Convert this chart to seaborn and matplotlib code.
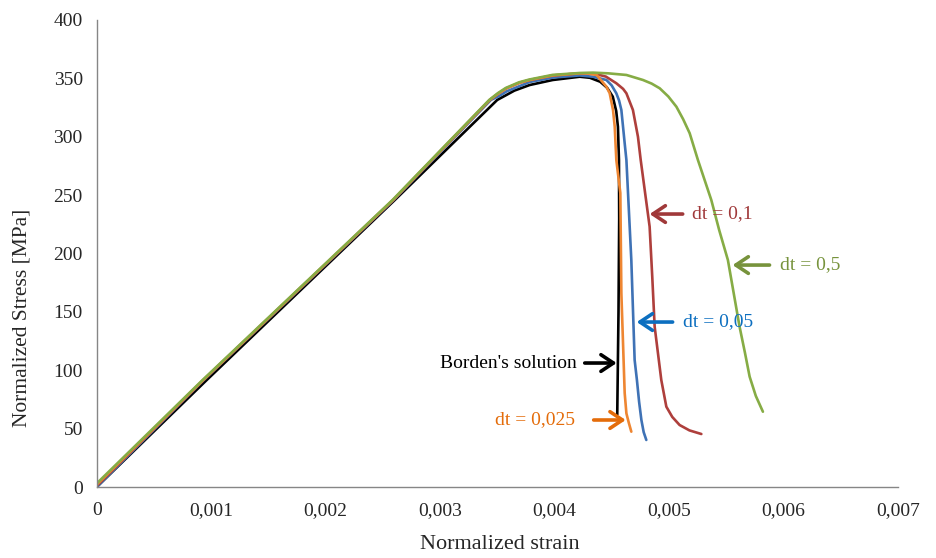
import matplotlib
matplotlib.use("Agg")
import matplotlib.pyplot as plt
import seaborn as sns
import pandas as pd

# strain / stress
strain_borden = [0, 0.000961, 0.002605, 0.00350, 0.003581, 0.00365, 0.003784, 0.003985, 0.004221, 0.00431,
                 0.00440, 0.00446, 0.00451, 0.00454, 0.004555, 0.004564, 0.004566, 0.00456, 0.004549]
stress_borden = [0, 91.6, 245.8, 331.5, 335.8, 339.5, 344.3, 348.6, 351.4, 350.5,
                 347.1, 342.0, 334.3, 322.0, 308.6, 280.0, 230.0, 150.0, 62.0]

strain_025 = [0, 0.000931, 0.00259, 0.003435, 0.00351, 0.003581, 0.003697, 0.003784, 0.003988, 0.004221,
              0.004279, 0.004369, 0.004454, 0.004483, 0.004512, 0.004527, 0.004541, 0.004576, 0.004585,
              0.004614, 0.004629, 0.00465, 0.004672]
stress_025 = [2, 91.6, 245.8, 331.5, 337.0, 341.5, 346.3, 348.6, 352.5, 354.3,
              354.3, 352.9, 342.9, 337.2, 322.9, 308.6, 280.1, 251.8, 165.9,
              80.5, 63.1, 55.0, 47.4]

strain_05 = [0, 0.000935, 0.002595, 0.003445, 0.00352, 0.003581, 0.003784, 0.003988, 0.004221, 0.004337,
             0.004454, 0.0045, 0.004541, 0.004565, 0.004585, 0.004614, 0.004629, 0.004672, 0.004701,
             0.004721, 0.00474, 0.00476, 0.00478, 0.004803]
stress_05 = [0, 91.6, 245.8, 331.5, 335.0, 338.8, 346.9, 350.7, 352.5, 351.4,
             348.6, 344.0, 337.2, 331.0, 322.9, 294.4, 280.1, 194.4, 108.8,
             91.6, 73.0, 57.4, 47.0, 40.3]

strain_1 = [0, 0.000931, 0.00259, 0.003435, 0.00351, 0.003581, 0.003697, 0.003784, 0.003988, 0.004221,
            0.004337, 0.00445, 0.004541, 0.0046, 0.004629, 0.004686, 0.00473, 0.004754, 0.004795,
            0.004832, 0.004855, 0.004876, 0.004934, 0.004978, 0.00503, 0.005094, 0.00518, 0.005284]
stress_1 = [1, 91.6, 245.8, 331.5, 337.0, 341.5, 346.3, 348.6, 352.5, 354.3,
            354.3, 351.5, 345.8, 341.0, 337.2, 322.9, 300.0, 280.1, 250.0,
            223.0, 180.0, 137.3, 91.6, 68.8, 60.0, 53.1, 48.5, 45.4]

strain_5 = [0, 0.000925, 0.002585, 0.00343, 0.003505, 0.003575, 0.00369, 0.00378, 0.003985, 0.004221,
            0.004337, 0.00447, 0.004629, 0.004774, 0.00485, 0.00492, 0.004995, 0.005066, 0.005125,
            0.005182, 0.005254, 0.005371, 0.00544, 0.005516, 0.005618, 0.005665, 0.005706, 0.00576,
            0.005822]
stress_5 = [3, 91.6, 245.8, 331.5, 337.3, 341.8, 346.6, 349.0, 353.0, 354.6,
            354.9, 354.3, 352.9, 348.6, 345.5, 341.5, 334.5, 325.7, 315.0,
            303.0, 280.1, 245.8, 220.0, 194.4, 137.3, 115.0, 94.5, 78.0,
            64.5]

x_ticks = [0, 0.001, 0.002, 0.003, 0.004, 0.005, 0.006, 0.007]
x_tick_labels = ["0", "0,001", "0,002", "0,003", "0,004", "0,005", "0,006", "0,007"]
y_ticks = [0, 50, 100, 150, 200, 250, 300, 350, 400]

series = [
    ("Borden's solution", strain_borden, stress_borden, "#000000"),
    ("dt = 0,05", strain_05, stress_05, "#3F72B5"),
    ("dt = 0,1", strain_1, stress_1, "#AE3F3C"),
    ("dt = 0,025", strain_025, stress_025, "#EE8632"),
    ("dt = 0,5", strain_5, stress_5, "#86AC45"),
]

sns.set_style("white")
plt.rcParams["font.family"] = ["Liberation Serif", "DejaVu Serif"]

fig = plt.figure(figsize=(9.36, 5.58), dpi=100)
ax = fig.add_axes([0.1033, 0.1272, 0.8558, 0.837])

for name, xs, ys, col in series:
    df = pd.DataFrame({"strain": xs, "stress": ys})
    sns.lineplot(data=df, x="strain", y="stress", sort=False, estimator=None,
                 color=col, lw=1.9, ax=ax)

ax.set_xlim(0, 0.007)
ax.set_ylim(0, 400)
ax.set_xticks(x_ticks)
ax.set_xticklabels(x_tick_labels)
ax.set_yticks(y_ticks)
ax.tick_params(axis="x", direction="in", length=4, color="#868686", labelsize=14, pad=11)
ax.tick_params(axis="y", direction="out", length=5, color="#868686", labelsize=14, pad=5)
for s in ["top", "right"]:
    ax.spines[s].set_visible(False)
for s in ["left", "bottom"]:
    ax.spines[s].set_color("#868686")
    ax.spines[s].set_linewidth(1)

ax.set_xlabel("Normalized strain", fontsize=16)
ax.set_ylabel("Normalized Stress [MPa]", fontsize=15.5)
ax.xaxis.set_label_coords(0.503, -0.103)
ax.yaxis.set_label_coords(-0.082, 0.362)

# labels with arrows
notes = [
    ("dt = 0,1", "#A0393A", (0.005121, 233.8), (0.004832, 233.8), (0.005199, 233.8), "left"),
    ("dt = 0,5", "#77933C", (0.005880, 190.1), (0.005557, 190.1), (0.005968, 190.1), "left"),
    ("dt = 0,05", "#0C6FC0", (0.005033, 141.3), (0.004719, 141.3), (0.005121, 141.3), "left"),
    ("Borden's solution", "#000000", (0.004265, 106.2), (0.004544, 106.2), (0.004195, 106.2), "right"),
    ("dt = 0,025", "#E46C0A", (0.004343, 57.4), (0.004623, 57.4), (0.004177, 57.4), "right"),
]
for txt, col, tail, head, pos, ha in notes:
    ax.annotate("", xy=head, xytext=tail,
                arrowprops=dict(arrowstyle="->,head_length=0.45,head_width=0.3",
                                color=col, lw=2.6, mutation_scale=20,
                                shrinkA=0, shrinkB=0))
    ax.text(pos[0], pos[1], txt, color=col, fontsize=14, ha=ha, va="center")

fig.savefig("out.png", dpi=100)
